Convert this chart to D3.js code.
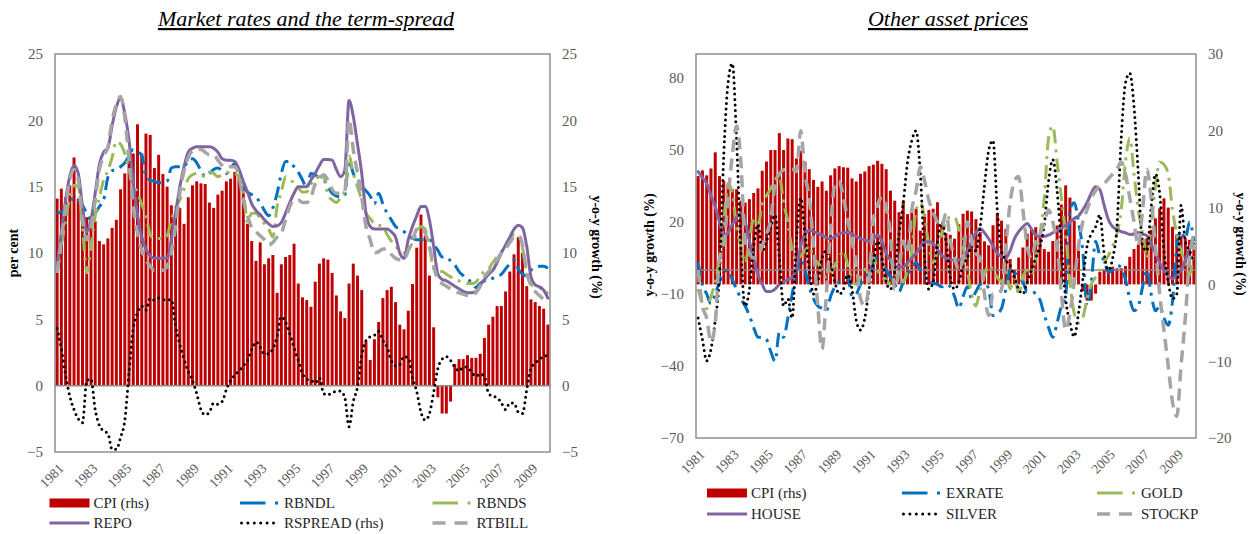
<!DOCTYPE html>
<html><head><meta charset="utf-8">
<script src="https://cdn.jsdelivr.net/npm/d3@7"></script>
<style>
body{margin:0;background:#fff;}
svg text{font-family:"Liberation Serif","Times New Roman",serif;}
</style></head><body>
<svg id="c" width="1258" height="534"></svg>
<script>
// ---------- DATA ----------
const startYear = 1981, nQuarters = 117;
const categories = [];
for (let k = 0; k < nQuarters; k++) categories.push((startYear + Math.floor(k / 4)) + "Q" + (k % 4 + 1));
const xTickLabels = ["1981","1983","1985","1987","1989","1991","1993","1995","1997","1999","2001","2003","2005","2007","2009"];

const cpi = [14.1,14.85,14.2,15.1,17.2,14.1,13.5,12.7,12.4,12.4,
10.9,10.65,11.1,11.9,12.5,14.8,16.0,17.5,17.5,19.7,
17.5,19.0,18.9,16.4,17.4,15.95,15.0,13.6,12.7,13.4,
12.2,14.2,15.1,15.4,15.25,15.2,13.8,13.4,14.4,14.7,
15.4,15.6,16.1,15.7,15.0,12.2,10.9,9.4,10.8,9.15,
9.6,9.85,7.0,9.15,9.7,9.85,10.7,7.7,6.66,6.45,
5.95,7.84,9.2,9.6,9.5,8.5,6.8,5.6,5.1,7.7,
9.2,8.3,7.2,3.3,1.93,3.5,4.8,6.6,7.2,7.45,
6.3,4.6,4.25,5.65,7.66,10.4,12.9,11.3,8.3,4.4,
-0.88,-2.1,-2.1,-1.2,1.63,2.0,2.0,2.3,2.1,2.1,
2.4,3.6,4.6,5.2,6.0,6.0,7.1,8.6,9.9,11.2,
10.0,7.5,6.5,6.3,6.0,5.8,4.6];

const rbndl = [13.0,13.1,13.3,13.7,14.2,14.0,13.6,13.0,12.5,13.0,
13.5,14.0,15.7,16.2,16.3,16.5,16.8,17.3,17.8,17.6,
17.4,15.75,15.5,15.4,15.3,15.3,15.4,16.4,16.5,16.5,
16.5,17.0,17.1,16.8,16.2,15.75,16.0,16.3,16.4,16.2,
16.0,16.4,16.75,16.1,15.0,14.6,14.4,14.2,13.8,13.2,
12.8,13.4,14.5,16.0,16.9,16.9,16.5,16.1,15.5,14.9,
16.0,15.9,15.6,15.5,15.0,14.5,14.3,14.2,14.4,17.0,
16.0,15.5,15.0,14.7,14.3,13.7,14.5,13.7,13.0,12.5,
12.0,11.8,11.6,11.3,11.1,11.0,11.0,11.0,11.0,10.6,
10.2,9.7,9.7,9.4,9.1,8.6,8.3,8.0,7.8,7.4,
7.7,7.9,8.0,8.1,8.2,8.4,8.8,9.2,9.5,8.8,
8.4,8.3,8.7,8.9,9.0,9.0,8.85];

const rbnds = [8.5,10.5,12.5,14.2,15.1,15.0,12.0,8.5,10.5,12.8,
14.2,15.5,16.2,17.2,18.4,18.2,17.5,16.3,15.3,14.5,
13.7,12.8,11.4,11.1,11.1,11.1,11.3,12.5,13.4,14.0,
14.8,15.6,15.9,16.0,15.9,15.75,16.1,16.0,15.75,15.9,
16.0,16.1,16.0,15.75,14.8,12.3,13.0,13.0,12.6,12.2,
11.8,11.2,13.5,14.6,15.75,15.5,15.3,14.9,14.6,14.6,
15.2,15.6,15.75,15.75,14.4,14.0,13.8,14.2,14.7,17.3,
16.0,15.0,14.0,13.0,12.6,12.2,12.1,12.0,11.4,10.9,
10.5,10.2,10.0,10.2,10.8,11.5,12.0,11.8,10.5,8.8,
8.6,8.6,8.4,8.2,8.0,7.9,7.8,7.7,7.7,7.8,
8.3,8.6,8.8,9.3,9.7,10.1,10.5,11.0,11.4,11.35,
10.4,8.5,7.6,7.5,7.4,7.3,6.9];

const repo = [9.0,11.5,14.0,15.8,16.6,16.0,13.5,11.6,12.5,14.5,
16.7,17.6,17.9,19.6,21.0,21.7,20.5,18.5,15.2,12.9,
11.2,10.3,9.8,9.6,9.6,9.6,9.6,11.0,13.0,15.0,
16.5,17.6,17.9,18.0,18.0,18.0,18.0,17.9,17.6,17.1,
17.0,17.0,16.9,16.3,15.4,14.6,13.7,13.2,12.9,12.5,
12.2,12.0,12.05,12.3,13.0,13.8,14.5,15.0,15.0,15.0,
15.5,16.0,16.6,17.05,17.05,17.0,16.3,15.75,16.25,21.5,
20.3,18.2,16.0,13.0,12.0,11.8,11.8,11.8,11.8,11.6,
11.2,10.0,9.6,11.0,12.0,12.8,13.5,13.5,12.5,10.5,
8.4,8.0,7.9,7.7,7.5,7.3,7.1,7.0,7.0,7.1,
7.6,8.0,8.4,8.7,9.3,10.0,10.6,11.2,11.8,12.1,
11.9,10.5,8.2,7.6,7.45,7.2,6.6];

const rspread = [4.3,2.8,0.8,-0.8,-1.8,-2.5,-2.8,0.4,0.5,-1.8,
-3.0,-3.4,-3.6,-4.8,-4.8,-3.9,-2.6,1.0,4.3,5.5,
6.0,5.7,6.6,6.45,6.6,6.5,6.45,6.5,4.5,3.1,
2.0,1.1,0.4,-0.6,-1.8,-2.2,-2.0,-1.3,-1.4,-1.2,
-0.3,0.4,0.8,1.1,1.5,1.9,2.7,3.3,2.9,2.4,
2.4,2.8,3.7,5.2,4.8,3.9,2.9,1.9,0.9,0.5,
0.4,0.2,0.6,-0.6,-0.7,-0.5,-0.45,-0.4,-0.9,-3.1,
-1.2,-0.1,2.3,3.4,3.7,3.8,4.1,3.4,2.9,1.9,
1.5,1.6,2.2,2.1,0.6,-0.45,-2.0,-2.6,-2.1,-0.5,
1.3,2.0,2.2,1.9,1.4,1.1,1.4,1.4,1.0,0.7,
0.9,0.7,-0.6,-0.8,-0.9,-1.3,-1.8,-1.3,-1.3,-2.0,
-2.1,-0.3,1.3,1.7,2.0,2.2,2.3];

const rtbill = [8.5,11.0,13.5,15.5,16.3,15.5,12.5,11.0,12.0,14.0,
16.3,17.3,18.0,20.0,21.2,21.8,20.2,17.0,13.5,11.5,
10.2,9.5,9.0,8.7,8.7,8.7,9.0,10.0,12.0,14.5,
16.2,17.2,17.7,17.8,17.8,17.6,17.4,17.4,17.0,16.6,
16.4,16.5,16.5,15.8,14.0,12.8,11.9,11.6,11.3,11.0,
10.6,10.8,11.2,11.5,12.5,13.5,14.0,14.0,13.8,13.8,
14.2,15.2,15.6,15.9,15.5,14.8,14.5,14.5,14.6,20.1,
17.8,16.0,14.2,12.0,11.0,10.0,10.1,10.3,10.3,9.9,
9.6,9.5,9.5,10.2,11.0,11.8,12.0,11.5,10.5,9.0,
8.0,7.7,7.5,7.3,7.1,7.0,6.9,6.8,6.8,7.0,
7.5,8.2,8.6,9.0,9.5,10.0,10.3,10.8,11.2,11.35,
10.6,8.5,7.6,7.1,6.8,6.5,6.3];

const exrate = [3,-6,-10,-14,-10,-5,-1,0,-4,-8,
-12,-15,-19,-24,-28,-28,-29,-34,-38,-26,
-28,-20,-10,-1,5,0,-7,-12,-15,-16,
-17,-11,-7,-5,-3.5,-2.8,-11,-10,-6,-3,
-1,2,6,4,0,-3,-6,-9,-5,-2,
1,3,0,-3,-5,-5.5,-6,-7,-6,-7,
-11,-16,-11,-7,-12,-9,-6,-5.6,-8,-19,
-18,-16,-8,0,-1,-3,-5,-9,-9,-10,
-12.5,-18.7,-24,-28,-22,-15,-11,25,28,20,
8,-15,-5,12,6,4,-1,0,2,1,
-4,-12,-17,-15,-7,0,-10,-17,-15,-20,
-23,-13,10,16,13,20,12];

const gold = [-8,-14,-16,-11,-5,5,20,36,32,18,
10,3,12,22,18,28,31,34,37.5,39,
28,20,8,4,6,8,10,5,3,0,
-3,-1,2,5,8,2,-4,-6,-3,0,
2,5,0,-3,-4,-6,-3,-2,-5,0,
8,25,28,22,10,3,8,15,20,22,
22,17,10,0,-10,-15,-8,-2,2,0,
-3,-5,-1,-8,-2,-10,-3,0,-2,5,
15,30,55,60,45,30,15,-5,-18,-22,
-20,-12,-6,-3,0,3,6,10,15,25,
45,55,40,25,15,5,18,35,45,44,
40,25,15,8,3,-2,10];

const house = [41,38.5,36,31,26.4,20,14,15.5,19,22,
23.5,20,12,5,-2,-6,-9,-9,-8,-6,
-5,-4,-3,1,10,15,16.5,16,15.3,14.5,
13.5,13,14,15,15.5,15.6,15,14,13,12.5,
12,13,14.5,12,7,4,1.5,1.4,1.4,3,
5,7,9.5,11.8,11.8,11,8.5,6,4.9,4.3,
4.2,4.2,5,8,12,15.5,17.3,15.5,13,10,
7,5.5,5,8,13,16,18,19.4,17,14.6,
14,14,14.5,15.5,16.5,17.5,18.7,20,21.5,22.5,
25,28,32,34.7,33.5,27,21,18,17,16,
15.5,14.8,15,15.6,15,14.3,11,7,3,0,
-2.5,-3.5,-2.5,0,4,9,11];

const silver = [-20,-29,-37.8,-33,-21,-2,48,78,86,54,
8,-15,-8,10,19,8,12,18,23,5,
-15,-12,-20,12,30,15,0,-10,-5,5,
8,3,-5,-10,-8,-2,-8,-21,-25,-20,
-8,3,12,5,-5,-8,0,15,28,45,
54,58,40,5,-8,-5,12,20,12,-3,
-8,-5,2,5,10,8,18,35,50,54,
25,8,4,2,-3,-8,-10,-5,0,5,
10,19,37,46,33,10,-12,-22,-27.8,-18,
-4,10,15,18,23,7,0,5,18,55,
78,82,68,40,10,8,26,40,32,8,
-5,-12,-10,27,12,8,3];

const stockp = [0,-15,-20,-30,-22,5,10,30,48,60,
45,12,7,5,6,10,15,21,36,40,
41.7,42,42,41,58,40,30,10,-15,-33,
-10,17,36,37,30,21,12,3,-12,-15,
-5,21,27,30.6,26,15,-8,0,12,7,
25,33,43,37,29,24,20,18,23.6,12.5,
5,0,5,20,12,7,5,-10,-19,-10,
-10,-8,10,28,37,39,25,10,5,12,
15,20,25,20,10,-10,-25,-18,-5,10,
20,25,30,33,35,36,38,40,42,45,
40,30,20,10,25,42,30,10,-10,-25,
-40,-55,-61,-40,-20,5,15];

const leftTicksA = [-5,0,5,10,15,20,25];
const rightTicksA = [-5,0,5,10,15,20,25];
const leftTicksB = [-70,-40,-10,20,50,80];
const rightTicksB = [-20,-10,0,10,20,30];

// ---------- STYLES ----------
const kinds = {
  dashdot: {w:3, dash:"14 6 3 6", cap:"butt"},
  solid:   {w:3, dash:null, cap:"round"},
  dots:    {w:3, dash:"0 5.5", cap:"round"},
  dash:    {w:3.5, dash:"12 7", cap:"butt"}
};

const svg = d3.select("#c");

function drawChart(cfg) {
  const g = svg.append("g");
  const x = d3.scaleBand().domain(categories).range([cfg.x0, cfg.x1]).paddingInner(0.3).paddingOuter(0.15);
  const step = x.step();
  const xc = i => x(categories[i]) + x.bandwidth() / 2;
  const yL = d3.scaleLinear().domain(cfg.domL).range([cfg.y1, cfg.y0]);
  const yR = d3.scaleLinear().domain(cfg.domR).range([cfg.y1, cfg.y0]);

  // bars
  const bars = cfg.series.filter(s => s.kind === "bar");
  bars.forEach(s => {
    const ys = s.axis === "R" ? yR : yL;
    g.append("g").selectAll("rect").data(s.data).join("rect")
      .attr("x", (d, i) => x(categories[i]))
      .attr("width", x.bandwidth())
      .attr("y", d => Math.min(ys(d), ys(0)))
      .attr("height", d => Math.abs(ys(d) - ys(0)))
      .attr("fill", s.color);
  });
  // category axis line at left-axis zero
  g.append("line").attr("x1", cfg.x0).attr("x2", cfg.x1)
    .attr("y1", yL(0)).attr("y2", yL(0)).attr("stroke", "#8c8c8c").attr("stroke-width", 1.5);

  // lines
  cfg.series.filter(s => s.kind !== "bar").forEach(s => {
    const ys = s.axis === "R" ? yR : yL;
    const k = kinds[s.kind];
    const line = d3.line().x((d, i) => xc(i)).y(d => ys(d)).curve(d3.curveMonotoneX);
    g.append("path").attr("d", line(s.data)).attr("fill", "none")
      .attr("stroke", s.color).attr("stroke-width", k.w)
      .attr("stroke-dasharray", k.dash).attr("stroke-linecap", k.cap)
      .attr("stroke-linejoin", "round");
  });

  // frame
  g.append("rect").attr("x", cfg.x0).attr("y", cfg.y0)
    .attr("width", cfg.x1 - cfg.x0).attr("height", cfg.y1 - cfg.y0)
    .attr("fill", "none").attr("stroke", "#7f7f7f").attr("stroke-width", 1.3);

  // y axes
  const axL = g.append("g").attr("transform", `translate(${cfg.x0},0)`)
    .call(d3.axisLeft(yL).tickValues(cfg.ticksL).tickSize(0).tickPadding(12).tickFormat(d3.format("d")));
  const axR = g.append("g").attr("transform", `translate(${cfg.x1},0)`)
    .call(d3.axisRight(yR).tickValues(cfg.ticksR).tickSize(0).tickPadding(12).tickFormat(d3.format("d")));
  [axL, axR].forEach(a => {
    a.select(".domain").remove();
    a.selectAll("text").attr("font-family", "Liberation Serif, serif").attr("font-size", 15).attr("fill", "#595959");
  });

  // x axis
  const tickCats = categories.filter(c => c.endsWith("Q1") && xTickLabels.includes(c.slice(0, 4)));
  const axX = g.append("g").attr("transform", `translate(0,${cfg.y1})`)
    .call(d3.axisBottom(x).tickValues(tickCats).tickSize(0).tickFormat(c => c.slice(0, 4)));
  axX.select(".domain").remove();
  axX.selectAll("text")
    .attr("font-family", "Liberation Serif, serif").attr("font-size", 13.5).attr("fill", "#595959")
    .attr("x", 0).attr("y", 0).attr("dy", "0.35em")
    .attr("text-anchor", "end")
    .attr("transform", `translate(${cfg.xlabDx},${cfg.xlabDy}) rotate(-45)`);

  // axis titles
  g.append("text").attr("transform", `translate(${cfg.tL.x},${cfg.tL.y}) rotate(-90)`)
    .attr("text-anchor", "middle").attr("dominant-baseline", "middle")
    .attr("font-weight", "bold").attr("font-size", 14).text(cfg.tL.text);
  g.append("text").attr("transform", `translate(${cfg.tR.x},${cfg.tR.y}) rotate(90)`)
    .attr("text-anchor", "middle").attr("dominant-baseline", "middle")
    .attr("font-weight", "bold").attr("font-size", 14).text(cfg.tR.text);

  // chart title
  g.append("text").attr("x", cfg.titleX).attr("y", 26).attr("text-anchor", "middle")
    .attr("font-style", "italic").attr("font-size", 22).attr("text-decoration", "underline")
    .text(cfg.title);

  // legend
  cfg.series.forEach((s, idx) => {
    const col = idx % 3, row = Math.floor(idx / 3);
    const lx = cfg.legCols[col], ly = cfg.legRows[row];
    const lg = g.append("g");
    if (s.kind === "bar") {
      lg.append("rect").attr("x", lx).attr("y", ly - 4.5).attr("width", 40).attr("height", 9).attr("fill", s.color);
    } else if (s.kind === "solid") {
      lg.append("line").attr("x1", lx).attr("x2", lx + 40).attr("y1", ly).attr("y2", ly)
        .attr("stroke", s.color).attr("stroke-width", 3);
    } else if (s.kind === "dashdot") {
      lg.append("line").attr("x1", lx).attr("x2", lx + 25.5).attr("y1", ly).attr("y2", ly)
        .attr("stroke", s.color).attr("stroke-width", 3);
      lg.append("rect").attr("x", lx + 35).attr("y", ly - 1.5).attr("width", 3).attr("height", 3).attr("fill", s.color);
    } else if (s.kind === "dots") {
      lg.append("line").attr("x1", lx + 1.5).attr("x2", lx + 34).attr("y1", ly).attr("y2", ly)
        .attr("stroke", s.color).attr("stroke-width", 3).attr("stroke-linecap", "round").attr("stroke-dasharray", "0 6.4");
    } else if (s.kind === "dash") {
      lg.append("line").attr("x1", lx).attr("x2", lx + 35).attr("y1", ly).attr("y2", ly)
        .attr("stroke", s.color).attr("stroke-width", 3.5).attr("stroke-dasharray", "13 9");
    }
    lg.append("text").attr("x", lx + 44).attr("y", ly).attr("dy", "0.35em")
      .attr("font-size", 15).attr("fill", "#262626").text(s.name);
  });
}

drawChart({
  x0: 55, x1: 550, y0: 54, y1: 452,
  domL: [-5, 25], domR: [-5, 25], ticksL: leftTicksA, ticksR: rightTicksA,
  xlabDx: 4, xlabDy: 14,
  tL: {text: "per cent", x: 15, y: 253}, tR: {text: "y-o-y growth (%)", x: 595, y: 247},
  title: "Market rates and the term-spread", titleX: 306,
  legCols: [49.5, 240, 432.5], legRows: [503, 523],
  series: [
    {name: "CPI (rhs)", data: cpi, kind: "bar", color: "#C00000", axis: "R"},
    {name: "RBNDL", data: rbndl, kind: "dashdot", color: "#0070C0", axis: "L"},
    {name: "RBNDS", data: rbnds, kind: "dashdot", color: "#9BBB59", axis: "L"},
    {name: "REPO", data: repo, kind: "solid", color: "#8064A2", axis: "L"},
    {name: "RSPREAD (rhs)", data: rspread, kind: "dots", color: "#000000", axis: "R"},
    {name: "RTBILL", data: rtbill, kind: "dash", color: "#A5A5A5", axis: "L"}
  ]
});

drawChart({
  x0: 696, x1: 1196, y0: 54, y1: 438,
  domL: [-70, 90], domR: [-20, 30], ticksL: leftTicksB, ticksR: rightTicksB,
  xlabDx: 4, xlabDy: 14,
  tL: {text: "y-o-y growth (%)", x: 651, y: 245}, tR: {text: "y-o-y growth (%)", x: 1239, y: 244},
  title: "Other asset prices", titleX: 948,
  legCols: [707, 902, 1097], legRows: [493, 514],
  series: [
    {name: "CPI (rhs)", data: cpi, kind: "bar", color: "#C00000", axis: "R"},
    {name: "EXRATE", data: exrate, kind: "dashdot", color: "#0070C0", axis: "L"},
    {name: "GOLD", data: gold, kind: "dashdot", color: "#9BBB59", axis: "L"},
    {name: "HOUSE", data: house, kind: "solid", color: "#8064A2", axis: "L"},
    {name: "SILVER", data: silver, kind: "dots", color: "#000000", axis: "L"},
    {name: "STOCKP", data: stockp, kind: "dash", color: "#A5A5A5", axis: "L"}
  ]
});
</script>
</body></html>
